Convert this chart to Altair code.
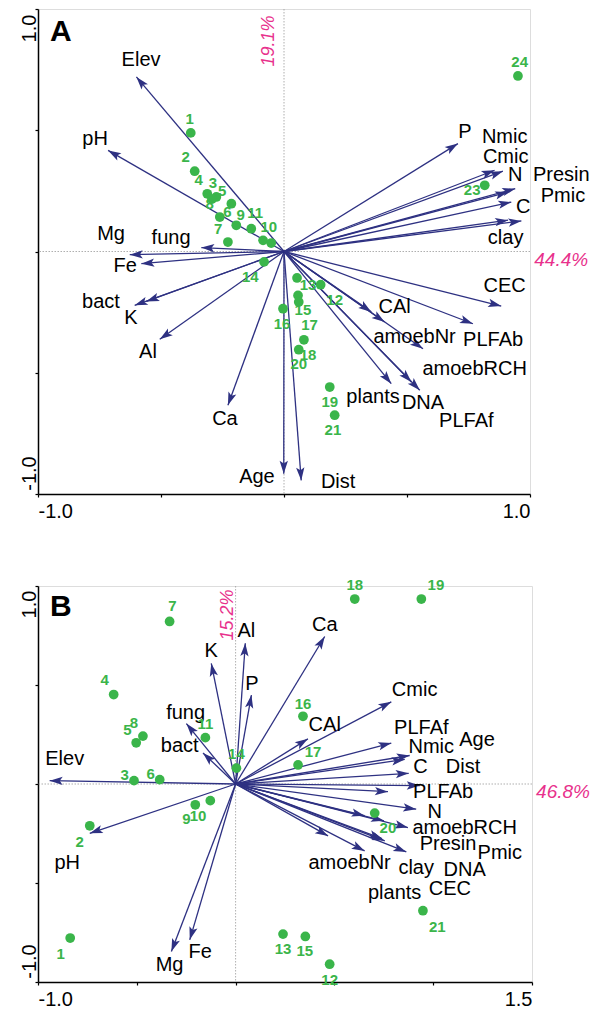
import math
import altair as alt
import pandas as pd

FONT = "Liberation Sans"
NAVY = "#2E3182"
GREEN = "#3AB54A"
PINK = "#E8318C"

# ---------------- Panel A ----------------
a_vars = ["Elev", "pH", "Mg", "Fe", "fung", "bact", "K", "Al", "Ca", "Age", "Dist",
          "CAl", "amoebNr", "amoebRCH", "PLFAb", "CEC", "plants", "DNA", "PLFAf",
          "P", "Nmic", "Cmic", "N", "Presin", "Pmic", "C", "clay"]
a_vx = [-0.600, -0.715, -0.627, -0.580, -0.336, -0.607, -0.560, -0.505, -0.228, -0.001, 0.070,
        0.355, 0.409, 0.565, 0.768, 0.883, 0.436, 0.518, 0.552,
        0.707, 0.856, 0.890, 0.940, 0.911, 0.924, 0.911, 0.965]
a_vy = [0.720, 0.417, -0.013, -0.050, 0.016, -0.222, -0.206, -0.362, -0.634, -0.916, -0.944,
        -0.249, -0.291, -0.401, -0.298, -0.225, -0.545, -0.538, -0.572,
        0.445, 0.335, 0.331, 0.259, 0.245, 0.204, 0.129, 0.126]
a_lx = [-0.581, -0.768, -0.703, -0.646, -0.459, -0.744, -0.622, -0.553, -0.240, -0.110, 0.220,
        0.450, 0.531, 0.775, 0.850, 0.897, 0.362, 0.565, 0.741,
        0.735, 0.897, 0.901, 0.940, 1.127, 1.134, 0.972, 0.901]
a_ly = [0.790, 0.464, 0.072, -0.060, 0.056, -0.208, -0.274, -0.414, -0.691, -0.930, -0.951,
        -0.229, -0.353, -0.486, -0.366, -0.142, -0.600, -0.624, -0.700,
        0.493, 0.472, 0.390, 0.314, 0.317, 0.229, 0.184, 0.056]

a_ids = ["1", "2", "3", "4", "5", "6", "7", "8", "9", "10", "11", "12", "13", "14", "15",
         "16", "17", "18", "19", "20", "21", "", "23", "24"]
a_px = [-0.379, -0.363, -0.275, -0.312, -0.214, -0.261, -0.228, -0.293, -0.194, -0.085, -0.133,
        0.149, 0.053, -0.081, 0.057, -0.004, 0.060, 0.081, 0.186, 0.060, 0.206, -0.052, 0.816, 0.951]
a_py = [0.489, 0.331, 0.225, 0.238, 0.197, 0.142, 0.039, 0.216, 0.108, 0.046, 0.094,
        -0.137, -0.109, -0.043, -0.181, -0.236, -0.208, -0.364, -0.559, -0.405, -0.675, 0.035, 0.273, 0.724]
a_plx = [-0.383, -0.400, -0.289, -0.347, -0.251, -0.230, -0.268, -0.302, -0.176, -0.062, -0.117,
         0.206, 0.098, -0.137, 0.077, -0.008, 0.104, 0.098, 0.186, 0.060, 0.199, -0.052, 0.765, 0.958]
a_ply = [0.545, 0.390, 0.284, 0.294, 0.249, 0.163, 0.094, 0.197, 0.152, 0.101, 0.160,
         -0.199, -0.139, -0.105, -0.242, -0.298, -0.304, -0.426, -0.621, -0.465, -0.737, 0.035, 0.252, 0.781]

# ---------------- Panel B ----------------
b_vars = a_vars
b_vx = [-0.941, -0.738, -0.325, -0.232, -0.249, -0.165, -0.123, 0.049, 0.451, 0.856, 0.932,
        0.366, 0.468, 0.872, 0.771, 0.741, 0.653, 0.755, 0.788,
        0.080, 0.881, 0.788, 0.914, 0.751, 0.864, 0.876, 0.653]
b_vy = [0.017, -0.249, -0.846, -0.787, 0.305, 0.157, 0.609, 0.711, 0.745, 0.124, -0.008,
        0.228, -0.262, -0.220, -0.039, -0.276, -0.160, -0.287, 0.207,
        0.449, 0.144, 0.415, -0.127, -0.186, -0.343, 0.054, -0.338]
b_lx = [-0.865, -0.852, -0.334, -0.179, -0.253, -0.283, -0.123, 0.054, 0.451, 1.222, 1.151,
        0.451, 0.577, 1.159, 1.050, 1.084, 0.805, 1.159, 0.940,
        0.083, 0.990, 0.906, 1.008, 1.075, 1.337, 0.935, 0.914]
b_ly = [0.127, -0.397, -0.914, -0.851, 0.359, 0.191, 0.672, 0.774, 0.804, 0.223, 0.088,
        0.296, -0.397, -0.220, -0.042, -0.529, -0.550, -0.435, 0.283,
        0.503, 0.186, 0.477, -0.140, -0.301, -0.347, 0.088, -0.423]

b_ids = [str(i) for i in range(1, 22)]
b_px = [-0.837, -0.738, -0.514, -0.617, -0.503, -0.384, -0.334, -0.469, -0.204, -0.128, -0.153,
        0.476, 0.240, 0.004, 0.353, 0.341, 0.316, 0.603, 0.940, 0.704, 0.948]
b_py = [-0.778, -0.211, 0.017, 0.452, 0.208, 0.022, 0.821, 0.242, -0.105, -0.084, 0.234,
        -0.910, -0.758, 0.080, -0.770, 0.342, 0.096, 0.934, 0.934, -0.147, -0.640]
b_plx = [-0.885, -0.789, -0.561, -0.662, -0.548, -0.430, -0.320, -0.514, -0.249, -0.190, -0.153,
         0.476, 0.240, 0.004, 0.350, 0.341, 0.392, 0.603, 1.014, 0.771, 1.021]
b_ply = [-0.858, -0.292, 0.043, 0.525, 0.271, 0.048, 0.897, 0.310, -0.178, -0.160, 0.302,
         -0.990, -0.834, 0.152, -0.843, 0.406, 0.164, 1.004, 1.004, -0.223, -0.722]

# axis annotations: text, x, y
a_notes = {"letter": ("A", -0.907, 0.905), "vert": ("19.1%", -0.062, 0.868), "horz": ("44.4%", 1.127, -0.036)}
b_notes = {"letter": ("B", -0.884, 0.892), "vert": ("15.2%", -0.038, 0.854), "horz": ("46.8%", 1.657, -0.042)}

ARROW = "M0,0 L0.32,1 L0,0.78 L-0.32,1 Z"


def panel(vars_, vx, vy, lx, ly, ids, px, py, plx, ply, notes, xdom, w, h, xlab_expr, yoff_top, yoff_bot):
    kx = w / (xdom[1] - xdom[0])
    ky = h / 2.0
    ang = [(math.degrees(math.atan2(a * kx, b * ky)) + 360) % 360 for a, b in zip(vx, vy)]
    vdf = pd.DataFrame({"var": vars_, "vx": vx, "vy": vy, "lx": lx, "ly": ly, "ang": ang})
    pdf = pd.DataFrame({"id": ids, "px": px, "py": py, "plx": plx, "ply": ply})
    xs = alt.Scale(domain=xdom, nice=False, zero=False)
    ys = alt.Scale(domain=[-1, 1], nice=False, zero=False)
    xvals = [v / 2 for v in range(int(xdom[0] * 2), int(xdom[1] * 2) + 1)]
    xaxis = alt.Axis(values=xvals, labelExpr=xlab_expr, title=None, grid=False, labelFlush=True,
                     tickSize=3, labelPadding=4, labelFontSize=20, labelFont=FONT, labelColor="black",
                     domainColor="black", domainWidth=1.5, tickColor="black", tickWidth=1.2)
    yaxis = alt.Axis(values=[-1, -0.5, 0, 0.5, 1],
                     labelExpr="datum.value == -1 ? '-1.0' : (datum.value == 1 ? '1.0' : '')",
                     title=None, grid=False, labelAngle=270, labelAlign="center", labelBaseline="alphabetic",
                     labelOffset={"condition": {"test": "datum.value > 0", "value": yoff_top}, "value": yoff_bot},
                     tickSize=3, labelPadding=0, labelFontSize=20, labelFont=FONT, labelColor="black",
                     domainColor="black", domainWidth=1.5, tickColor="black", tickWidth=1.2)

    def X(f):
        return alt.X(f, type="quantitative", scale=xs, axis=xaxis)

    def Y(f):
        return alt.Y(f, type="quantitative", scale=ys, axis=yaxis)

    one = pd.DataFrame({"z": [0]})
    vline = alt.Chart(one).mark_rule(color="#9a9a9a", strokeWidth=0.8, strokeDash=[1.5, 1.5]).encode(
        x=alt.X("z:Q", scale=xs, axis=xaxis))
    hline = alt.Chart(one).mark_rule(color="#9a9a9a", strokeWidth=0.8, strokeDash=[1.5, 1.5]).encode(
        y=alt.Y("z:Q", scale=ys, axis=yaxis))
    shafts = alt.Chart(vdf).mark_rule(color=NAVY, strokeWidth=1.3).encode(
        x=X("vx"), y=Y("vy"), x2=alt.datum(0), y2=alt.datum(0))
    heads = alt.Chart(vdf).mark_point(shape=ARROW, filled=True, size=676, color=NAVY, opacity=1,
                                      strokeWidth=0).encode(
        x=X("vx"), y=Y("vy"), angle=alt.Angle("ang:Q", scale=None))
    vlabels = alt.Chart(vdf).mark_text(font=FONT, fontSize=20, color="black", align="center",
                                       baseline="middle").encode(x=X("lx"), y=Y("ly"), text="var:N")
    dots = alt.Chart(pdf).mark_circle(size=95, color=GREEN, opacity=1).encode(x=X("px"), y=Y("py"))
    plabels = alt.Chart(pdf).mark_text(font=FONT, fontSize=15, fontWeight="bold", color=GREEN,
                                       align="center", baseline="middle").encode(
        x=X("plx"), y=Y("ply"), text="id:N")

    def note_layer(key, **kw):
        t, nx, ny = notes[key]
        df = pd.DataFrame({"t": [t], "nx": [nx], "ny": [ny]})
        return alt.Chart(df).mark_text(font=FONT, align="center", baseline="middle", **kw).encode(
            x=X("nx"), y=Y("ny"), text="t:N")

    letter = note_layer("letter", fontSize=30, fontWeight="bold", color="black")
    vnote = note_layer("vert", fontSize=18, fontStyle="italic", color=PINK, angle=270)
    hnote = note_layer("horz", fontSize=19, fontStyle="italic", color=PINK)

    return alt.layer(vline, hline, shafts, heads, vlabels, dots, plabels, letter, vnote, hnote).properties(
        width=w, height=h)


chartA = panel(a_vars, a_vx, a_vy, a_lx, a_ly, a_ids, a_px, a_py, a_plx, a_ply, a_notes,
               [-1, 1], 492, 485,
               "datum.value == -1 ? '-1.0' : (datum.value == 1 ? '1.0' : '')", 19, -21)
chartB = panel(b_vars, b_vx, b_vy, b_lx, b_ly, b_ids, b_px, b_py, b_plx, b_ply, b_notes,
               [-1, 1.5], 494, 396,
               "datum.value == -1 ? '-1.0' : (datum.value == 1.5 ? '1.5' : '')", 18, -21)

chart = alt.vconcat(chartA, chartB, spacing=92, bounds="flush").properties(
    padding={"left": 18, "top": 7, "right": 0, "bottom": 0}
).configure_view(stroke="#333333", strokeWidth=1).configure(background="white")

chart.save("out.html", embed_options={"renderer": "svg", "actions": False})
